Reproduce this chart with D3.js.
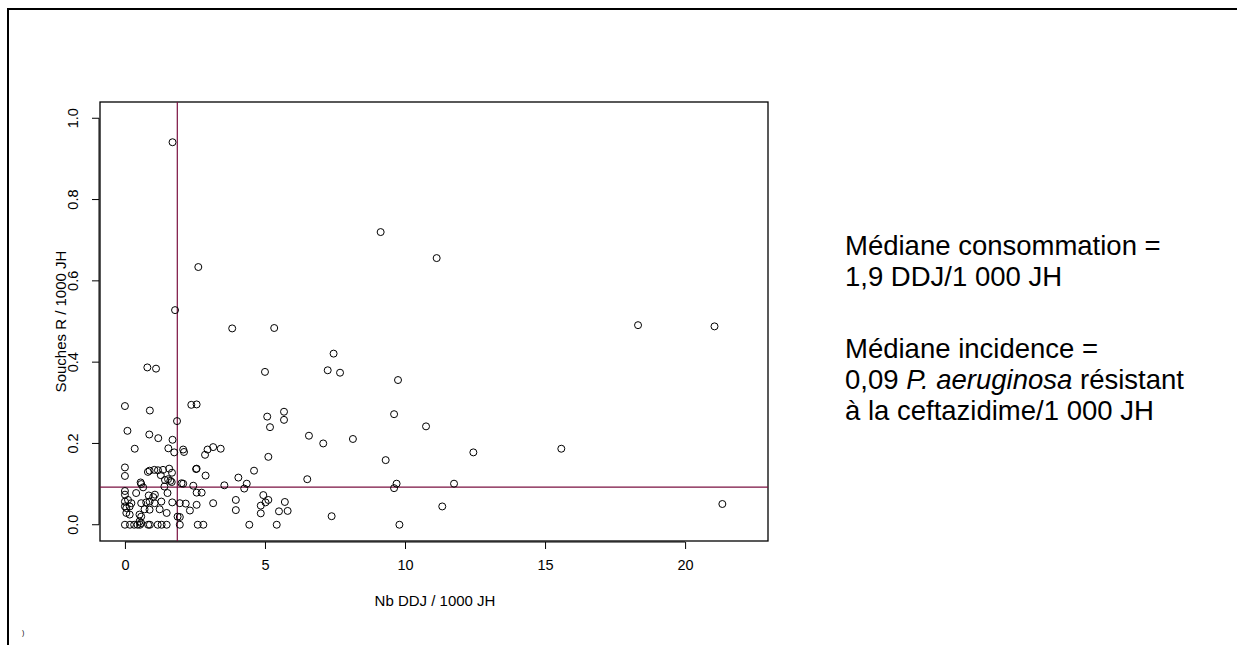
<!DOCTYPE html>
<html>
<head>
<meta charset="utf-8">
<script src="https://cdn.jsdelivr.net/npm/d3@7"></script>
<style>
  html, body { margin: 0; padding: 0; background: #fff; }
  svg { display: block; }
  text { font-family: "Liberation Sans", Arial, sans-serif; }
</style>
</head>
<body>
<svg id="chart" width="1237" height="645"></svg>
<script>
// ---- data ----
const ddj = [
  1.70, 2.62, 1.79, 3.83, 5.33, 0.80, 1.11, 5.00, 9.13, 11.13,
  7.45, 7.24, 7.68, 9.75, 5.68, 5.68, 9.61, 6.57, 7.08, 8.14,
  10.75, 12.44, 9.31, 6.51, 9.70, 9.61, 11.75, 18.32, 21.05, 15.58,
  21.33, 9.80, 11.33, 7.38, 5.08, 5.18, 5.12, 4.61, 4.05, 3.55,
  4.35, 4.26, 3.96, 3.96, 4.94, 5.12, 5.02, 4.85, 4.85, 5.71,
  5.50, 5.81, 4.44, 5.42, 0.00, 0.89, 2.37, 2.56, 1.86, 0.09,
  0.87, 1.19, 1.70, 0.35, 1.55, 1.76, 2.08, 2.11, 2.86, 2.95,
  3.15, 3.42, 0.00, 0.00, 0.82, 0.88, 1.05, 1.18, 1.36, 1.58,
  1.68, 2.54, 2.56, 2.88, 1.28, 1.54, 0.56, 0.58, 0.65, 1.43,
  1.62, 1.67, 1.41, 2.02, 2.08, 2.44, 2.56, 2.74, 0.00, 0.00,
  1.52, 1.07, 1.01, 0.40, 0.85, 0.00, 0.11, 0.23, 0.58, 0.76,
  0.88, 1.06, 1.30, 0.00, 0.05, 0.17, 0.70, 0.88, 1.24, 0.05,
  0.17, 0.52, 0.58, 0.52, 0.58, 1.69, 1.96, 2.17, 2.56, 3.15,
  2.32, 1.88, 1.96, 1.49, 1.49, 1.96, 2.60, 2.80, 0.00, 0.18,
  0.33, 0.45, 0.54, 0.83, 0.89, 1.17, 1.31
];
const souchesR = [
  0.941, 0.634, 0.528, 0.483, 0.484, 0.387, 0.384, 0.376, 0.720, 0.656,
  0.421, 0.380, 0.374, 0.356, 0.278, 0.258, 0.272, 0.219, 0.200, 0.211,
  0.242, 0.178, 0.159, 0.112, 0.101, 0.090, 0.101, 0.491, 0.488, 0.187,
  0.051, 0.000, 0.045, 0.021, 0.266, 0.240, 0.167, 0.133, 0.116, 0.097,
  0.101, 0.089, 0.061, 0.036, 0.073, 0.061, 0.055, 0.047, 0.028, 0.056,
  0.033, 0.034, 0.000, 0.000, 0.292, 0.281, 0.295, 0.296, 0.255, 0.231,
  0.222, 0.213, 0.209, 0.187, 0.188, 0.178, 0.185, 0.179, 0.172, 0.185,
  0.191, 0.187, 0.141, 0.120, 0.130, 0.133, 0.135, 0.134, 0.135, 0.138,
  0.128, 0.137, 0.138, 0.121, 0.122, 0.112, 0.104, 0.100, 0.092, 0.110,
  0.108, 0.105, 0.094, 0.102, 0.101, 0.096, 0.079, 0.079, 0.083, 0.074,
  0.078, 0.074, 0.068, 0.078, 0.072, 0.057, 0.061, 0.053, 0.053, 0.055,
  0.057, 0.053, 0.057, 0.045, 0.041, 0.045, 0.038, 0.037, 0.038, 0.029,
  0.025, 0.025, 0.020, 0.008, 0.004, 0.055, 0.053, 0.052, 0.049, 0.053,
  0.035, 0.020, 0.019, 0.029, 0.000, 0.000, 0.000, 0.000, 0.000, 0.000,
  0.000, 0.000, 0.000, 0.000, 0.000, 0.000, 0.000
];
const xTicks = [0, 5, 10, 15, 20];
const yTicks = [0.0, 0.2, 0.4, 0.6, 0.8, 1.0];
const medianDDJ = 1.87;
const medianR = 0.0925;
const xTitle = "Nb DDJ / 1000 JH";
const yTitle = "Souches R / 1000 JH";

// ---- layout ----
const svg = d3.select("#chart");
const L = 100, R = 768, T = 102, B = 541;
const x = d3.scaleLinear().domain([-0.89, 22.96]).range([L, R]);
const y = d3.scaleLinear().domain([-0.04, 1.04]).range([B, T]);
const FONT = '"Liberation Sans", Arial, sans-serif';

// outer frame
svg.append("path")
  .attr("d", `M8,650 L8,9 L1240,9`)
  .attr("fill", "none").attr("stroke", "#000").attr("stroke-width", 2);

// tiny mark bottom-left
svg.append("text").attr("x", 22).attr("y", 635).attr("font-size", 7).text(")");

// axes
const xAxis = d3.axisBottom(x).tickValues(xTicks).tickSize(7).tickPadding(11)
  .tickFormat(d3.format("d"));
const gx = svg.append("g").attr("transform", `translate(0,${B + 1})`).call(xAxis);
gx.select(".domain").attr("d", `M${x(0)},0H${x(20)}`);
gx.selectAll("text").attr("font-size", 14.5).attr("font-family", FONT).attr("fill", "#000");
gx.selectAll("line, .domain").attr("stroke", "#000");

const yAxis = d3.axisLeft(y).tickValues(yTicks).tickSize(7).tickFormat(d3.format(".1f"));
const gy = svg.append("g").attr("transform", `translate(${L - 1},0)`).call(yAxis);
gy.select(".domain").attr("d", `M0,${y(0)}V${y(1)}`);
gy.selectAll("line, .domain").attr("stroke", "#000");
gy.selectAll(".tick").attr("transform", "translate(0,0)");
gy.selectAll(".tick line").attr("y1", d => y(d)).attr("y2", d => y(d));
gy.selectAll("text")
  .attr("font-size", 14.5).attr("font-family", FONT).attr("fill", "#000")
  .attr("text-anchor", "middle").attr("dy", null).attr("x", null).attr("y", 0)
  .attr("transform", d => `translate(-26,${y(d)}) rotate(-90)`)
  .attr("dominant-baseline", "central");

// plot box
svg.append("rect").attr("x", L).attr("y", T).attr("width", R - L).attr("height", B - T)
  .attr("fill", "none").attr("stroke", "#000").attr("stroke-width", 1.3);

// median lines
svg.append("line").attr("x1", x(medianDDJ)).attr("x2", x(medianDDJ)).attr("y1", T).attr("y2", B)
  .attr("stroke", "#7a1040").attr("stroke-width", 1.2);
svg.append("line").attr("x1", L).attr("x2", R).attr("y1", y(medianR)).attr("y2", y(medianR))
  .attr("stroke", "#7a1040").attr("stroke-width", 1.2);

// points
svg.append("g").selectAll("circle").data(ddj.map((d, i) => [d, souchesR[i]])).join("circle")
  .attr("cx", d => x(d[0])).attr("cy", d => y(d[1])).attr("r", 3.5)
  .attr("fill", "none").attr("stroke", "#000").attr("stroke-width", 1);

// axis titles
svg.append("text").attr("x", 435).attr("y", 606).attr("text-anchor", "middle")
  .attr("font-size", 15).text(xTitle);
svg.append("text").attr("transform", `translate(66,${(T + B) / 2}) rotate(-90)`)
  .attr("text-anchor", "middle").attr("font-size", 15).text(yTitle);

// annotation
const ann = svg.append("g").attr("font-size", 27.5).attr("fill", "#000");
ann.append("text").attr("x", 845).attr("y", 255).text("Médiane consommation =");
ann.append("text").attr("x", 845).attr("y", 286).text("1,9 DDJ/1 000 JH");
ann.append("text").attr("x", 845).attr("y", 358).text("Médiane incidence =");
const t4 = ann.append("text").attr("x", 845).attr("y", 389);
t4.append("tspan").text("0,09 ");
t4.append("tspan").attr("font-style", "italic").text("P. aeruginosa");
t4.append("tspan").text(" résistant");
ann.append("text").attr("x", 845).attr("y", 420).text("à la ceftazidime/1 000 JH");
</script>
</body>
</html>
